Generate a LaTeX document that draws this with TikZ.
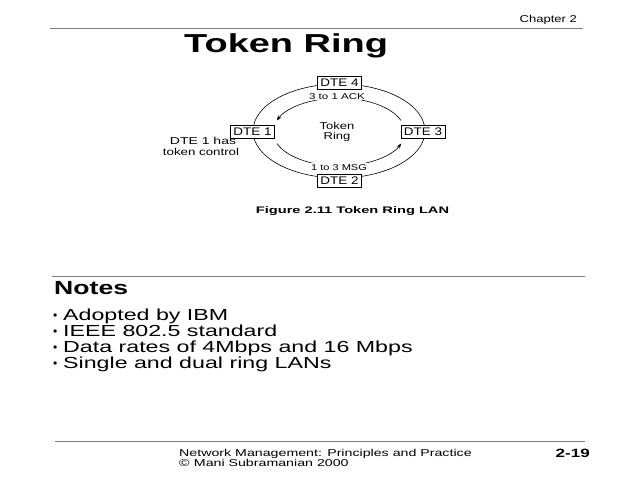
\documentclass[tikz,border=0pt]{standalone}
\usepackage{fontspec}
\setmainfont{Liberation Sans}
\usepackage{graphicx}
\usetikzlibrary{arrows.meta}
\newcommand{\wx}[2]{\scalebox{#1}[1]{#2}}
\definecolor{rulegray}{HTML}{808080}
\begin{document}
\begin{tikzpicture}[x=1pt,y=-1pt,
  txt/.style={inner sep=0pt,anchor=base},
  fsz/.style={font=\fontsize{#1}{#1}\selectfont},
  rulel/.style={draw=rulegray,line width=1pt},
  dte/.style={draw,fill=white,line width=0.6pt,minimum width=44pt,minimum height=13pt,inner sep=0pt,fsz=11},
  ring/.style={line width=0.6pt},
  flow/.style={line width=0.6pt,-{Stealth[length=5pt,width=4pt]}},
  lbl/.style={fill=white,inner sep=1pt,anchor=base,fsz=8.5},
  bul/.style={txt,fsz=12,anchor=base west},
  item/.style={txt,fsz=16,anchor=base west}
]
\useasboundingbox (0,0) rectangle (640,480);
\fill[white] (0,0) rectangle (640,480);

% header
\coordinate (tl1) at (50,28); \coordinate (tl2) at (583,28);
\draw[rulel] (tl1) -- (tl2);
\node[txt,fsz=10,anchor=base east] (chap) at (577,22) {\wx{1.3}{Chapter 2}};
\node[txt,fsz=26,anchor=base west] (title) at (184,52.5) {\bfseries\wx{1.46}{Token Ring}};

% ring
\draw[ring] (339,131) ellipse [x radius=86, y radius=47];
\coordinate (ua) at (401,120.4);
\coordinate (la) at (277,143.6);
\draw[flow] (ua) arc[start angle=-20, end angle=-160, x radius=66, y radius=34];
\draw[flow] (la) arc[start angle=160, end angle=20, x radius=66, y radius=34];
\node[lbl] (ack) at (337,99) {\wx{1.36}{3 to 1 ACK}};
\node[lbl] (msg) at (339,170) {\wx{1.3}{1 to 3 MSG}};

\node[dte] (d4) at (339.5,83) {\wx{1.22}{DTE 4}};
\node[dte] (d1) at (252.5,131.5) {\wx{1.22}{DTE 1}};
\node[dte] (d3) at (423,131.5) {\wx{1.22}{DTE 3}};
\node[dte] (d2) at (339.5,180.5) {\wx{1.22}{DTE 2}};

\node[txt,fsz=10] (tk) at (337,129) {\wx{1.3}{Token}};
\node[txt,fsz=10] (rg) at (337,139.5) {\wx{1.3}{Ring}};
\node[txt,fsz=10] (h1) at (203,144.5) {\wx{1.4}{DTE 1 has}};
\node[txt,fsz=10] (h2) at (201,155) {\wx{1.33}{token control}};

\node[txt,fsz=9.5] (cap) at (352.5,213) {\bfseries\wx{1.54}{Figure 2.11 Token Ring LAN}};

% notes
\coordinate (ml1) at (52,276); \coordinate (ml2) at (585,276);
\draw[rulel] (ml1) -- (ml2);
\node[txt,fsz=19,anchor=base west] (notes) at (54,294) {\bfseries\wx{1.4}{Notes}};
\node[bul] (p1) at (53,319.5) {\textbullet};
\node[item] (b1) at (63,320.5) {\wx{1.45}{Adopted by IBM}};
\node[bul] (p2) at (53,335.5) {\textbullet};
\node[item] (b2) at (63,336.5) {\wx{1.45}{IEEE 802.5 standard}};
\node[bul] (p3) at (53,351.5) {\textbullet};
\node[item] (b3) at (63,352.5) {\wx{1.45}{Data rates of 4Mbps and 16 Mbps}};
\node[bul] (p4) at (53,367.5) {\textbullet};
\node[item] (b4) at (63,368.5) {\wx{1.45}{Single and dual ring LANs}};

% footer
\coordinate (bl1) at (55,441); \coordinate (bl2) at (585,441);
\draw[rulel] (bl1) -- (bl2);
\node[txt,fsz=10,anchor=base west] (f1) at (179,456) {\wx{1.42}{Network Management: Principles and Practice}};
\node[txt,fsz=10,anchor=base west] (f2) at (179,466.5) {\wx{1.42}{\textcopyright\hspace{3pt}Mani Subramanian 2000}};
\node[txt,fsz=12,anchor=base east] (pg) at (590,457.5) {\bfseries\wx{1.42}{2-19}};
\end{tikzpicture}
\end{document}
